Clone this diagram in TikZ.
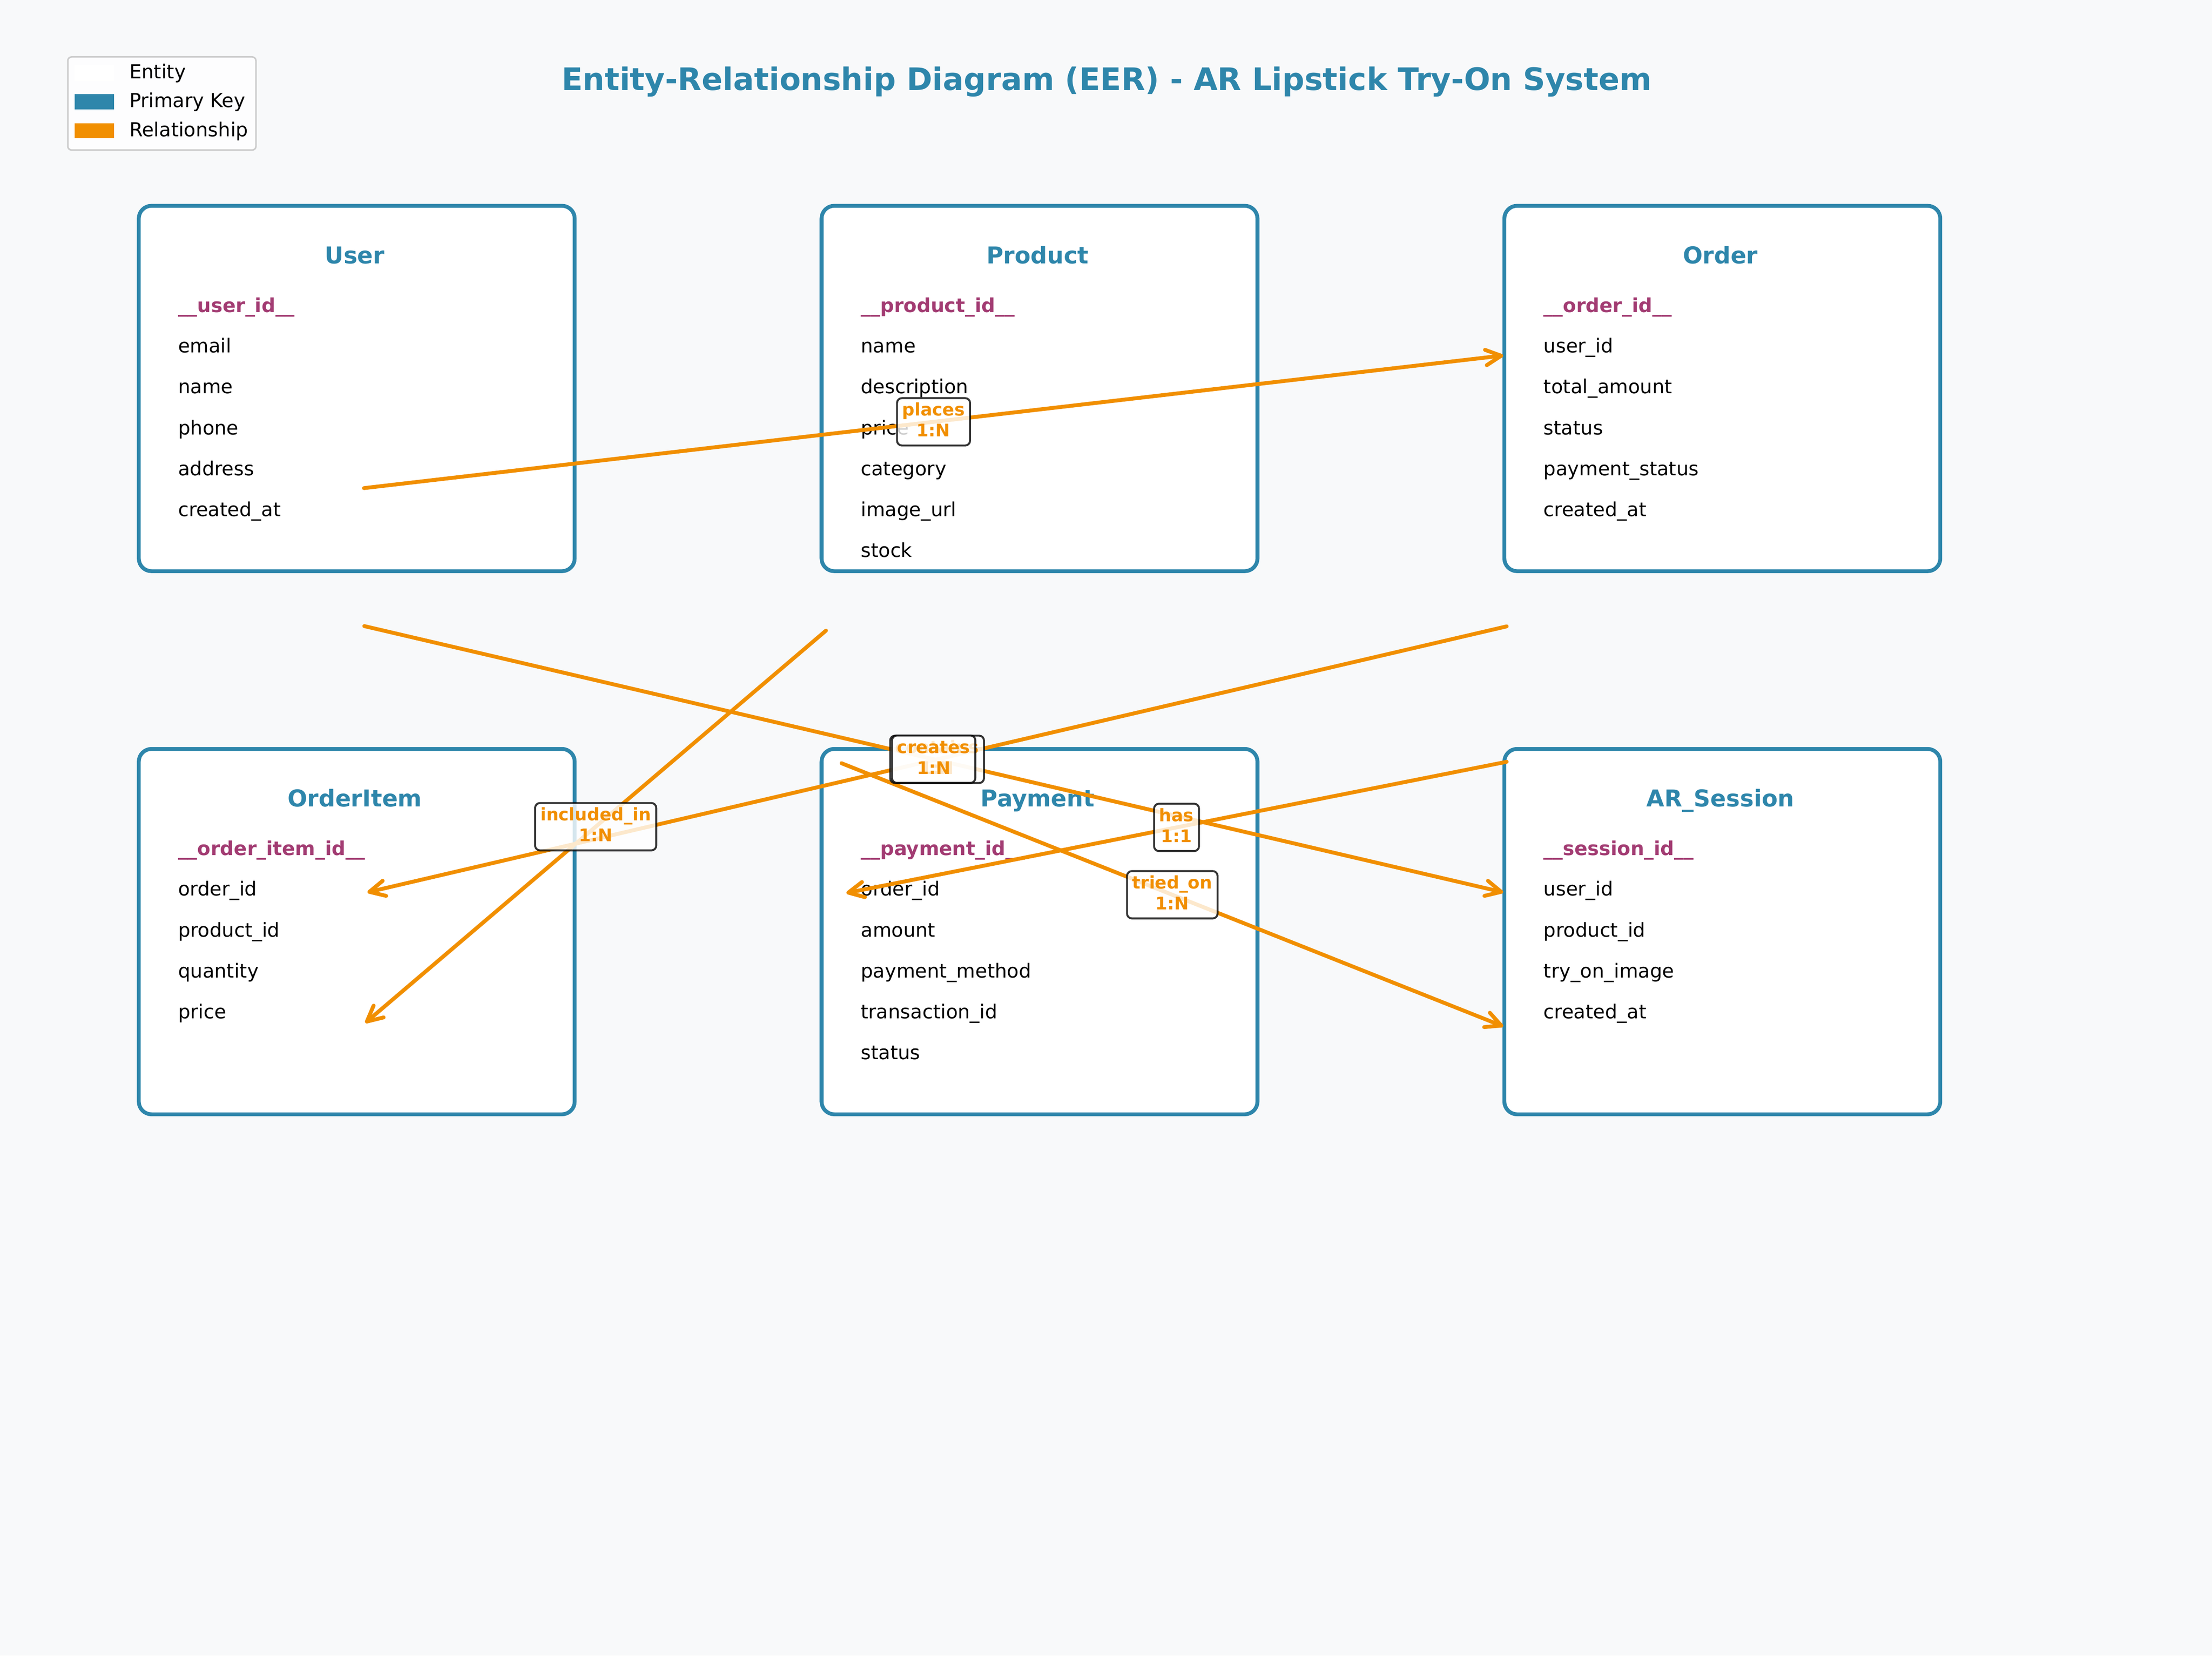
\documentclass[tikz,border=0pt]{standalone}
\usepackage{fontspec}
\setmainfont{DejaVu Sans}
\usetikzlibrary{arrows.meta}
\definecolor{bg}{HTML}{F8F9FA}
\definecolor{ent}{HTML}{2E86AB}
\definecolor{pk}{HTML}{A23B72}
\definecolor{rel}{HTML}{F18F01}
\definecolor{legedge}{HTML}{CCCCCC}
\tikzset{
  entity/.style={draw=ent, line width=2pt, fill=white, rounded corners=6.6pt,
    minimum width=225.6pt, minimum height=189.1pt, inner sep=0pt},
  etitle/.style={text=ent, font=\bfseries\fontsize{12}{14.4}\selectfont, inner sep=0pt,
    text height=9.1pt, text depth=2.9pt},
  field/.style={anchor=west, inner sep=0pt, font=\fontsize{10}{12}\selectfont,
    text height=7.6pt, text depth=2.4pt},
  pkfield/.style={field, text=pk, font=\bfseries\fontsize{10}{12}\selectfont},
  relline/.style={draw=rel, line width=2pt, line cap=round, line join=round},
  relarrow/.style={relline, -{Straight Barb[length=8pt,width=8pt,round]}},
  rlabel/.style={draw=black, draw opacity=0.8, line width=1pt, fill=white, fill opacity=0.8,
    text opacity=1, text=rel, rounded corners=2.5pt, align=center,
    font=\bfseries\fontsize{9}{10.8}\selectfont, inner xsep=2.7pt, inner ysep=2.3pt},
  legtext/.style={anchor=west, inner sep=0pt, font=\fontsize{10}{12}\selectfont,
    text height=7.6pt, text depth=2.4pt},
  ttl/.style={text=ent, font=\bfseries\fontsize{16}{19.2}\selectfont, inner sep=0pt,
    text height=12.2pt, text depth=3.8pt}
}
\newcommand{\rl}[2]{\rule{0pt}{6.9pt}#1\\#2\rule[-2.2pt]{0pt}{2.2pt}}
\newcommand{\erent}[6]{%
  \node[entity, anchor=north west] (#1) at (#2,#3) {};
  \node[etitle] (#1-t) at ({#2+154.5},{#3+38.2}) {#4};
  \node[pkfield] (#1-pk) at ({#2+29},{#3+73.2}) {#5};
  \foreach \f [count=\i] in {#6} {\node[field] (#1-\i) at ({#2+29},{#3+73+29*\i}) {\f};}
}
\begin{document}
\begin{tikzpicture}[x=0.7301pt,y=-0.7301pt]
\fill[bg] (0,0) rectangle (1568,1173.6);
\useasboundingbox (0,0) rectangle (1568,1173.6);

% title
\node[ttl] (title) at (784.5,58.3) {Entity-Relationship Diagram (EER) - AR Lipstick Try-On System};

% legend
\node[draw=legedge, line width=0.8pt, fill=white, fill opacity=0.8, draw opacity=1,
  rounded corners=2pt, anchor=north west, minimum width=97.4pt, minimum height=48.2pt,
  inner sep=0pt] (legend) at (47.5,39.8) {};
\node[fill=white, anchor=north west, minimum width=20.5pt, minimum height=7.8pt, inner sep=0pt] (legE) at (52.6,46.2) {};
\node[fill=ent, anchor=north west, minimum width=20.5pt, minimum height=7.8pt, inner sep=0pt] (legP) at (52.6,66.5) {};
\node[fill=rel, anchor=north west, minimum width=20.5pt, minimum height=7.8pt, inner sep=0pt] (legR) at (52.6,87.1) {};
\node[legtext] (legEt) at (91.5,52.2) {Entity};
\node[legtext] (legPt) at (91.5,72.6) {Primary Key};
\node[legtext] (legRt) at (91.5,93.1) {Relationship};

% entities
\erent{user}{97}{144.5}{User}{\_\_user\_id\_\_}{email,name,phone,address,created\_at}
\erent{product}{581}{144.5}{Product}{\_\_product\_id\_\_}{name,description,price,category,image\_url,stock}
\erent{order}{1065}{144.5}{Order}{\_\_order\_id\_\_}{user\_id,total\_amount,status,payment\_status,created\_at}
\erent{orderitem}{97}{529.5}{OrderItem}{\_\_order\_item\_id\_\_}{order\_id,product\_id,quantity,price}
\erent{payment}{581}{529.5}{Payment}{\_\_payment\_id\_\_}{order\_id,amount,payment\_method,transaction\_id,status}
\erent{arsession}{1065}{529.5}{AR\_Session}{\_\_session\_id\_\_}{user\_id,product\_id,try\_on\_image,created\_at}

% connector end points
\coordinate (placesA) at (258,346);   \coordinate (placesB) at (1065.5,252);
\coordinate (createsA) at (258.2,443.8); \coordinate (createsB) at (1065.5,632.5);
\coordinate (containsA) at (1068,444); \coordinate (containsB) at (260.5,632.5);
\coordinate (inclA) at (585.5,447);    \coordinate (inclB) at (259,725);
\coordinate (hasA) at (1068,540);      \coordinate (hasB) at (600,633);
\coordinate (triedA) at (596.5,541);   \coordinate (triedB) at (1065.5,727.5);

% connectors
\draw[relarrow] (placesA) -- coordinate (placesM) (placesB);
\draw[relarrow] (createsA) -- coordinate (createsM) (createsB);
\draw[relarrow] (containsA) -- coordinate (containsM) (containsB);
\draw[relarrow] (inclA) -- coordinate (inclM) (inclB);
\draw[relarrow] (hasA) -- coordinate (hasM) (hasB);
\draw[relarrow] (triedA) -- coordinate (triedM) (triedB);

% labels
\node[rlabel] (containsL) at (containsM) {\rl{contains}{1:N}};
\node[rlabel] (createsL) at (createsM) {\rl{creates}{1:N}};
\node[rlabel] (placesL) at (placesM) {\rl{places}{1:N}};
\node[rlabel] (inclL) at (inclM) {\rl{included\_in}{1:N}};
\node[rlabel] (hasL) at (hasM) {\rl{has}{1:1}};
\node[rlabel] (triedL) at (triedM) {\rl{tried\_on}{1:N}};
\end{tikzpicture}
\end{document}
